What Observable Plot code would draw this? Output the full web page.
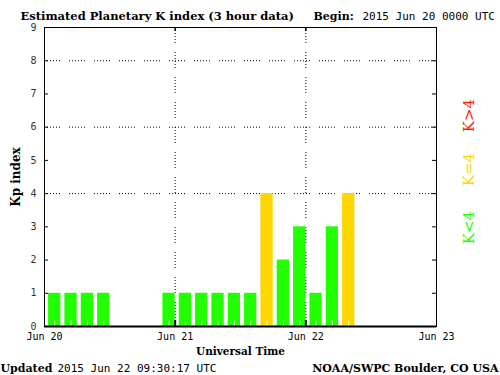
<!DOCTYPE html>
<html>
<head>
<meta charset="utf-8">
<script src="https://cdn.jsdelivr.net/npm/d3@7"></script>
<script src="https://cdn.jsdelivr.net/npm/@observablehq/plot@0.6"></script>
<style>
  html, body { margin: 0; padding: 0; background: #fff; }
  #chart { width: 500px; height: 375px; }
</style>
</head>
<body>
<div id="chart"></div>
<script>
// ---- data ----
const slotStarts = [
  "2015-06-20T00:00Z", "2015-06-20T03:00Z", "2015-06-20T06:00Z", "2015-06-20T09:00Z",
  "2015-06-20T12:00Z", "2015-06-20T15:00Z", "2015-06-20T18:00Z", "2015-06-20T21:00Z",
  "2015-06-21T00:00Z", "2015-06-21T03:00Z", "2015-06-21T06:00Z", "2015-06-21T09:00Z",
  "2015-06-21T12:00Z", "2015-06-21T15:00Z", "2015-06-21T18:00Z", "2015-06-21T21:00Z",
  "2015-06-22T00:00Z", "2015-06-22T03:00Z", "2015-06-22T06:00Z"
];
const kpValues = [1, 1, 1, 1, 0, 0, 0, 1, 1, 1, 1, 1, 1, 4, 2, 3, 1, 3, 4];
const dayTicks = ["2015-06-20T00:00Z", "2015-06-21T00:00Z", "2015-06-22T00:00Z", "2015-06-23T00:00Z"];
const dayLabels = ["Jun 20", "Jun 21", "Jun 22", "Jun 23"];
const yTicks = [0, 1, 2, 3, 4, 5, 6, 7, 8, 9];
const yGrid = [4, 6, 8];
const legendLabels = ["K>4", "K=4", "K<4"];
const titleText = "Estimated Planetary K index (3 hour data)";
const beginLabel = "Begin:";
const beginText = "2015 Jun 20 0000 UTC";
const updatedLabel = "Updated";
const updatedText = "2015 Jun 22 09:30:17 UTC";
const creditText = "NOAA/SWPC Boulder, CO USA";
const yTitle = "Kp index";
const xTitle = "Universal Time";

// ---- derived table ----
const H = 3600 * 1000;
const bars = slotStarts.map((s, i) => {
  const t0 = new Date(s);
  return { t0, kp: kpValues[i] };
}).filter(d => d.kp > 0);
const days = dayTicks.map(d => new Date(d));
const dayLabelMap = new Map(days.map((d, i) => [+d, dayLabels[i]]));

const GREEN = "#22ff00", GOLD = "#ffd700", RED = "#ff2200";
const colorOf = k => k < 4 ? GREEN : k === 4 ? GOLD : RED;

const serif = "DejaVu Serif";
const mono = "DejaVu Sans Mono";
const dots = "1,2,1,2,1,2,1,2,1,2,1,9";

const chart = Plot.plot({
  width: 500,
  height: 375,
  marginLeft: 44,
  marginRight: 64,
  marginTop: 27,
  marginBottom: 49,
  style: { background: "#fff", color: "#000", fontFamily: mono },
  x: { type: "utc", domain: [days[0], days[3]], axis: null },
  y: { domain: [0, 9], axis: null },
  marks: [
    // grid
    Plot.ruleY(yGrid, { stroke: "#000", strokeDasharray: dots, strokeWidth: 1 }),
    Plot.ruleX(days.slice(1, 3), { stroke: "#000", strokeDasharray: dots, strokeWidth: 1 }),
    // bars
    Plot.rectY(bars, {
      x1: d => new Date(+d.t0 + 0.75 * H),
      x2: d => new Date(+d.t0 + 3 * H),
      y1: 0,
      y2: "kp",
      fill: d => colorOf(d.kp)
    }),
    // white minor ticks inside bars
    Plot.ruleX(bars, {
      x: d => new Date(+d.t0 + 1.875 * H),
      y1: 0,
      y2: 0.16,
      stroke: "#fff",
      strokeWidth: 1
    }),
    // frame
    Plot.frame({ stroke: "#000", strokeWidth: 1 }),
    Plot.ruleY([0], { stroke: "#000", strokeWidth: 2 }),
    // inward y ticks (left and right)
    Plot.tickY(yTicks, { y: d => d, insetRight: 388, stroke: "#000" }),
    Plot.tickY(yTicks, { y: d => d, insetLeft: 388, stroke: "#000" }),
    // inward x ticks (top and bottom)
    Plot.tickX(days.slice(1, 3), { x: d => d, insetBottom: 295, stroke: "#000", strokeWidth: 1.5 }),
    Plot.tickX(days.slice(1, 3), { x: d => d, insetTop: 293, stroke: "#000", strokeWidth: 2 }),
    // axes labels
    Plot.axisY(yTicks, { anchor: "left", tickSize: 0, tickPadding: 8, fontSize: 10, fontFamily: mono, color: "#333", label: null }),
    Plot.axisX(days, { anchor: "bottom", tickSize: 0, tickPadding: 6, fontSize: 10, fontFamily: mono, label: null, tickFormat: d => dayLabelMap.get(+d) }),
    // titles
    Plot.text([titleText], { text: d => d, frameAnchor: "top-left", dx: -24, dy: -8, lineAnchor: "bottom", textAnchor: "start", fontFamily: serif, fontWeight: "bold", fontSize: 11.5 }),
    Plot.text([beginLabel], { text: d => d, frameAnchor: "top-left", dx: 269, dy: -8, lineAnchor: "bottom", textAnchor: "start", fontFamily: serif, fontWeight: "bold", fontSize: 11 }),
    Plot.text([beginText], { text: d => d, frameAnchor: "top-left", dx: 318, dy: -8, lineAnchor: "bottom", textAnchor: "start", fontFamily: mono, fontSize: 11 }),
    Plot.text([yTitle], { text: d => d, frameAnchor: "left", dx: -28, rotate: -90, textAnchor: "middle", lineAnchor: "middle", fontFamily: serif, fontWeight: "bold", fontSize: 12 }),
    Plot.text([xTitle], { text: d => d, frameAnchor: "bottom", dy: 28, lineAnchor: "bottom", textAnchor: "middle", fontFamily: serif, fontWeight: "bold", fontSize: 10.5 }),
    Plot.text([updatedLabel], { text: d => d, frameAnchor: "bottom-left", dx: -44, dy: 45, lineAnchor: "bottom", textAnchor: "start", fontFamily: serif, fontWeight: "bold", fontSize: 11 }),
    Plot.text([updatedText], { text: d => d, frameAnchor: "bottom-left", dx: 13, dy: 45, lineAnchor: "bottom", textAnchor: "start", fontFamily: mono, fontSize: 11 }),
    Plot.text([creditText], { text: d => d, frameAnchor: "bottom-right", dx: 62, dy: 45, lineAnchor: "bottom", textAnchor: "end", fontFamily: serif, fontWeight: "bold", fontSize: 11 }),
    // right-side legend
    Plot.text([legendLabels[0]], { text: d => d, frameAnchor: "right", dx: 33, dy: -61.5, rotate: -90, textAnchor: "middle", lineAnchor: "middle", fill: RED, fontFamily: serif, fontSize: 15 }),
    Plot.text([legendLabels[1]], { text: d => d, frameAnchor: "right", dx: 33, dy: -7.5, rotate: -90, textAnchor: "middle", lineAnchor: "middle", fill: GOLD, fontFamily: serif, fontSize: 15 }),
    Plot.text([legendLabels[2]], { text: d => d, frameAnchor: "right", dx: 33, dy: 50.5, rotate: -90, textAnchor: "middle", lineAnchor: "middle", fill: GREEN, fontFamily: serif, fontSize: 15 })
  ]
});
document.getElementById("chart").appendChild(chart);
</script>
</body>
</html>
